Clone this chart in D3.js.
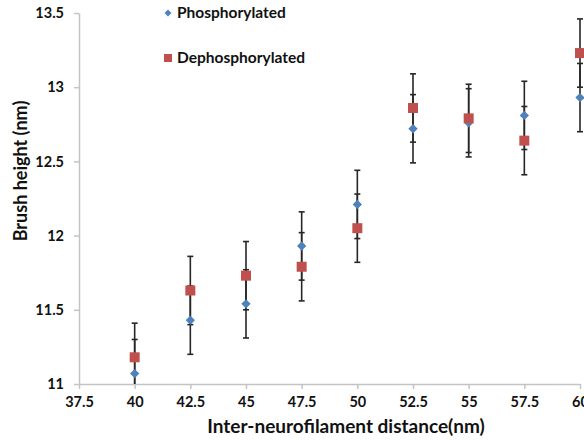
<!DOCTYPE html>
<html>
<head>
<meta charset="utf-8">
<script src="https://cdn.jsdelivr.net/npm/d3@7"></script>
<style>
  body { margin: 0; background: #fff; }
  svg { display: block; font-family: Lato, "Open Sans", sans-serif; }
</style>
</head>
<body>
<svg width="584" height="440"></svg>
<script>
// distance values (nm)
const distances = [40, 42.5, 45, 47.5, 50, 52.5, 55, 57.5, 60];
const phospho = [11.07, 11.43, 11.54, 11.93, 12.21, 12.72, 12.76, 12.81, 12.93];
const phosphoErr = [0.23, 0.23, 0.23, 0.23, 0.23, 0.23, 0.23, 0.23, 0.23];
const dephospho = [11.18, 11.63, 11.73, 11.79, 12.05, 12.86, 12.79, 12.64, 13.23];
const dephosphoErr = [0.23, 0.23, 0.23, 0.23, 0.23, 0.23, 0.23, 0.23, 0.23];
const xTicks = [37.5, 40, 42.5, 45, 47.5, 50, 52.5, 55, 57.5, 60];
const yTicks = [11, 11.5, 12, 12.5, 13, 13.5];

const svg = d3.select("svg");

const x = d3.scaleLinear().domain([37.5, 60]).range([79, 580]);
const y = d3.scaleLinear().domain([11, 13.5]).range([384, 13]);

const series = [
  {name: "Phosphorylated", values: phospho, err: phosphoErr, color: "#4F81BD", shape: "diamond"},
  {name: "Dephosphorylated", values: dephospho, err: dephosphoErr, color: "#C0504D", shape: "square"}
];

// axes
const xAxis = svg.append("g")
  .attr("transform", `translate(0,${y(11)})`)
  .call(d3.axisBottom(x).tickValues(xTicks).tickSize(5).tickSizeOuter(0).tickFormat(d3.format("")));
const yAxis = svg.append("g")
  .attr("transform", `translate(${x(37.5)},0)`)
  .call(d3.axisLeft(y).tickValues(yTicks).tickSize(5).tickSizeOuter(0).tickFormat(d3.format("")));

[xAxis, yAxis].forEach(a => {
  a.select(".domain").attr("stroke", "#c4c4c4").attr("stroke-width", 1.5);
  a.selectAll(".tick line").attr("stroke", "#c4c4c4").attr("stroke-width", 1.5);
  a.selectAll(".tick text")
    .attr("fill", "#111")
    .attr("font-size", 14.5)
    .attr("font-weight", "bold")
    .attr("font-family", "Lato, sans-serif");
});
xAxis.selectAll(".tick text").attr("dy", "1.05em");
yAxis.selectAll(".tick text").attr("x", -15);

// axis titles
svg.append("text")
  .attr("x", 346).attr("y", 433)
  .attr("text-anchor", "middle")
  .attr("font-size", 19).attr("font-weight", "bold").attr("fill", "#111")
  .text("Inter-neurofilament distance(nm)");

svg.append("text")
  .attr("transform", "translate(27,171) rotate(-90)")
  .attr("text-anchor", "middle")
  .attr("font-size", 18).attr("font-weight", "bold").attr("fill", "#111")
  .text("Brush height (nm)");

// clip error bars at the axis minimum
svg.append("clipPath").attr("id", "plot")
  .append("rect").attr("x", 70).attr("y", 0).attr("width", 540).attr("height", y(11));

const plot = svg.append("g").attr("clip-path", "url(#plot)");

// error bars first
series.forEach(s => {
  const pts = distances.map((d, i) => ({x: d, v: s.values[i], e: s.err[i]}));
  const g = plot.append("g").attr("stroke", "#262626").attr("stroke-width", 1.6);
  g.selectAll("line.bar").data(pts).join("line")
    .attr("x1", d => x(d.x)).attr("x2", d => x(d.x))
    .attr("y1", d => y(d.v - d.e)).attr("y2", d => y(d.v + d.e));
  g.selectAll("line.capTop").data(pts).join("line")
    .attr("x1", d => x(d.x) - 3).attr("x2", d => x(d.x) + 3)
    .attr("y1", d => y(d.v + d.e)).attr("y2", d => y(d.v + d.e));
  g.selectAll("line.capBot").data(pts).join("line")
    .attr("x1", d => x(d.x) - 3).attr("x2", d => x(d.x) + 3)
    .attr("y1", d => y(d.v - d.e)).attr("y2", d => y(d.v - d.e));
});

// markers
const diamond = d3.symbol().type(d3.symbolDiamond2).size(55);
const square = d3.symbol().type(d3.symbolSquare).size(100);

series.forEach(s => {
  plot.append("g").selectAll("path")
    .data(distances.map((d, i) => [d, s.values[i]]))
    .join("path")
    .attr("transform", d => `translate(${x(d[0])},${y(d[1])})`)
    .attr("d", s.shape === "diamond" ? diamond : square)
    .attr("fill", s.color);
});

// legend
const legend = svg.append("g");
series.forEach((s, i) => {
  const ly = 13 + i * 45;
  legend.append("path")
    .attr("transform", `translate(168,${ly})`)
    .attr("d", s.shape === "diamond" ? d3.symbol().type(d3.symbolDiamond2).size(30)() : d3.symbol().type(d3.symbolSquare).size(64)())
    .attr("fill", s.color);
  legend.append("text")
    .attr("x", 177).attr("y", ly + 5)
    .attr("font-size", 15.5).attr("font-weight", "bold").attr("fill", "#111")
    .text(s.name);
});
</script>
</body>
</html>
